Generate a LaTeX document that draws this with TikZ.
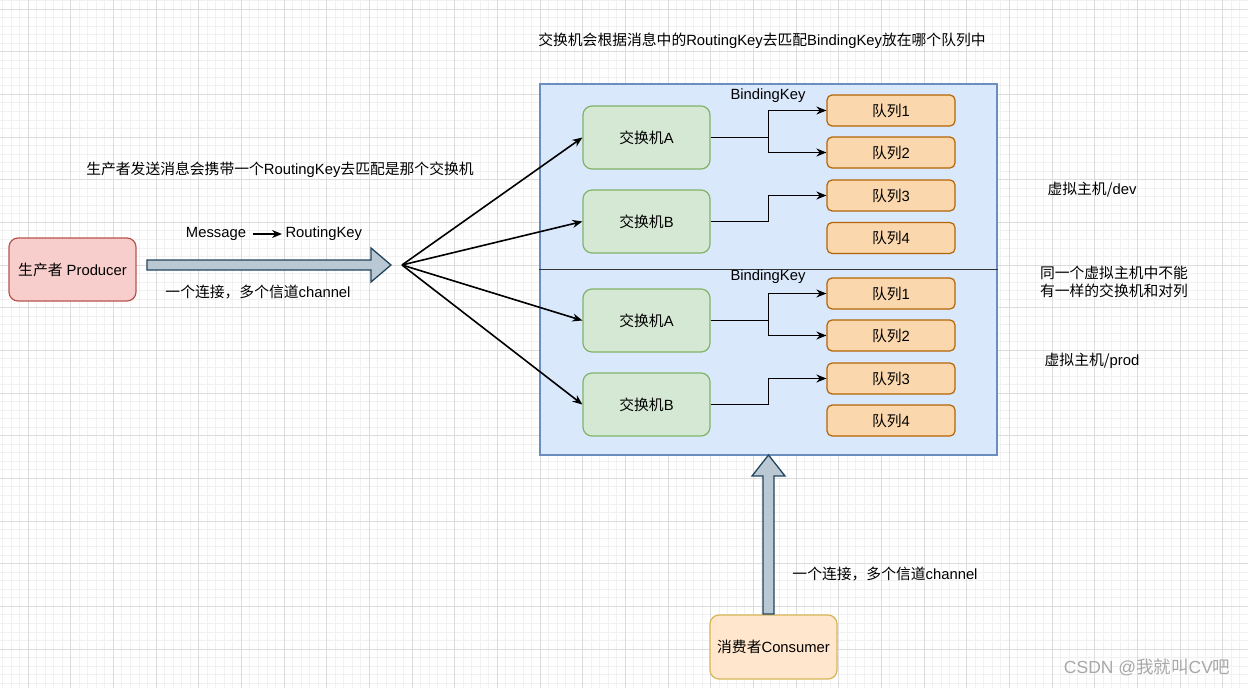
\documentclass[tikz,border=0pt]{standalone}
\usepackage{fontspec}
\setmainfont{Liberation Sans}
\newfontfamily\zh{Noto Sans CJK SC}
\usepackage{tikz}
\usetikzlibrary{arrows.meta}
\definecolor{gridfine}{HTML}{F1F1F1}
\definecolor{gridmain}{HTML}{DCDCDC}
\definecolor{prodfill}{HTML}{F8CECC}
\definecolor{prodline}{HTML}{B85450}
\definecolor{exfill}{HTML}{D5E8D4}
\definecolor{exline}{HTML}{82B366}
\definecolor{qfill}{HTML}{FAD7AC}
\definecolor{qline}{HTML}{B46504}
\definecolor{hostfill}{HTML}{DAE8FC}
\definecolor{hostline}{HTML}{6C8EBF}
\definecolor{consfill}{HTML}{FFE6CC}
\definecolor{consline}{HTML}{D6B656}
\definecolor{arrowfill}{HTML}{BAC8D3}
\definecolor{arrowline}{HTML}{23445D}
\definecolor{markgray}{HTML}{A8A8A8}
\tikzset{every node/.append style={font=\fontsize{14.8}{18}\selectfont}}

\begin{document}
\begin{tikzpicture}[x=1pt,y=-1pt,>={Stealth[length=10pt,width=8pt]},
  bigbox/.style={draw,rounded corners=9pt,minimum width=127,minimum height=63,line width=1.2pt},
  exbox/.style={bigbox,fill=exfill,draw=exline},
  qbox/.style={draw=qline,fill=qfill,rounded corners=5pt,minimum width=128,minimum height=31,line width=1.2pt},
  link/.style={->,line width=1.6pt},
  blockarrow/.style={fill=arrowfill,draw=arrowline,line width=1.3pt,line join=miter}]
\useasboundingbox (0,0) rectangle (1248,688);
\fill[white] (0,0) rectangle (1248,688);
% background grid
\foreach \k in {-3,...,143} \draw[gridfine,line width=.8pt] ({28+\k*8.5333},0) -- ({28+\k*8.5333},688);
\foreach \k in {-1,...,79} \draw[gridfine,line width=.8pt] (0,{9+\k*8.5333}) -- (1248,{9+\k*8.5333});
\foreach \k in {0,...,28} \draw[gridmain,line width=1pt] ({28+\k*42.667},0) -- ({28+\k*42.667},688);
\foreach \k in {0,...,15} \draw[gridmain,line width=1pt] (0,{9+\k*42.667}) -- (1248,{9+\k*42.667});

% virtual host
\node[draw=hostline,fill=hostfill,line width=1.2pt,minimum width=457,minimum height=371] (host) at (768.5,269.5) {};
\draw[line width=1.7pt,black!80] (host.west) -- (host.east);

% producer side
\node[bigbox,fill=prodfill,draw=prodline] (prod) at (72.5,269.5) {{\zh 生产者} Producer};
\draw[blockarrow] (147,260) -- (371,260) -- (371,248) -- (391,265) -- (371,282) -- (371,270) -- (147,270) -- cycle;
\coordinate (fan) at (402,265);
\node (msg) at (216,234) {Message};
\node[anchor=west] (rkey) at (282,234) {RoutingKey};
\draw[link,line width=1.2pt,shorten <=3pt] (msg.east) -- (rkey.west);
\node (chan1) at (258,292) {\zh 一个连接，多个信道\rmfamily channel};
\node (note1) at (280,170) {{\zh 生产者发送消息会携带一个}RoutingKey{\zh 去匹配是那个交换机}};
\node (title) at (762,41) {{\zh 交换机会根据消息中的}RoutingKey{\zh 去匹配}BindingKey{\zh 放在哪个队列中}};

% exchanges and queues
\node (bk1) at (768,96) {BindingKey};
\node (bk2) at (768,277) {BindingKey};
\node[exbox] (exA1) at (646.5,137.5) {\zh 交换机\rmfamily A};
\node[exbox] (exB1) at (646.5,221.5) {\zh 交换机\rmfamily B};
\node[exbox] (exA2) at (646.5,320.5) {\zh 交换机\rmfamily A};
\node[exbox] (exB2) at (646.5,404.5) {\zh 交换机\rmfamily B};
\node[qbox] (q11) at (891,110.5) {\zh 队列\rmfamily 1};
\node[qbox] (q12) at (891,152.5) {\zh 队列\rmfamily 2};
\node[qbox] (q13) at (891,195.5) {\zh 队列\rmfamily 3};
\node[qbox] (q14) at (891,238) {\zh 队列\rmfamily 4};
\node[qbox] (q21) at (891,293.5) {\zh 队列\rmfamily 1};
\node[qbox] (q22) at (891,335.5) {\zh 队列\rmfamily 2};
\node[qbox] (q23) at (891,378.5) {\zh 队列\rmfamily 3};
\node[qbox] (q24) at (891,420.5) {\zh 队列\rmfamily 4};

\draw[link] (fan) -- (exA1.west);
\draw[link] (fan) -- (exB1.west);
\draw[link] (fan) -- (exA2.west);
\draw[link] (fan) -- (exB2.west);

\draw[link] (exA1.east) -- ++(58,0) coordinate (sA1) |- (q11);
\draw[link] (sA1) |- (q12);
\draw[link] (exB1.east) -| ++(58,-25) |- (q13);
\draw[link] (exA2.east) -- ++(58,0) coordinate (sA2) |- (q21);
\draw[link] (sA2) |- (q22);
\draw[link] (exB2.east) -| ++(58,-25) |- (q23);

% notes on the right
\node (dev) at (1092,190) {\zh 虚拟主机/\rmfamily dev};
\node[align=left] (rule) at (1114,282) {\zh 同一个虚拟主机中不能\\\zh 有一样的交换机和对列};
\node (prodhost) at (1092,361) {\zh 虚拟主机/\rmfamily prod};

% consumer side
\node[bigbox,fill=consfill,draw=consline,minimum height=64] (cons) at (773.5,647) {{\zh 消费者}Consumer};
\draw[blockarrow] (763,614) -- (763,476) -- (752,476) -- (768.5,455) -- (785,476) -- (774,476) -- (774,614) -- cycle;
\node (chan2) at (885,574) {\zh 一个连接，多个信道\rmfamily channel};

\node[anchor=east,text=markgray,font=\fontsize{17.5}{20}\selectfont] (mark) at (1234,667) {CSDN @{\zh 我就叫}CV{\zh 吧}};
\end{tikzpicture}
\end{document}
